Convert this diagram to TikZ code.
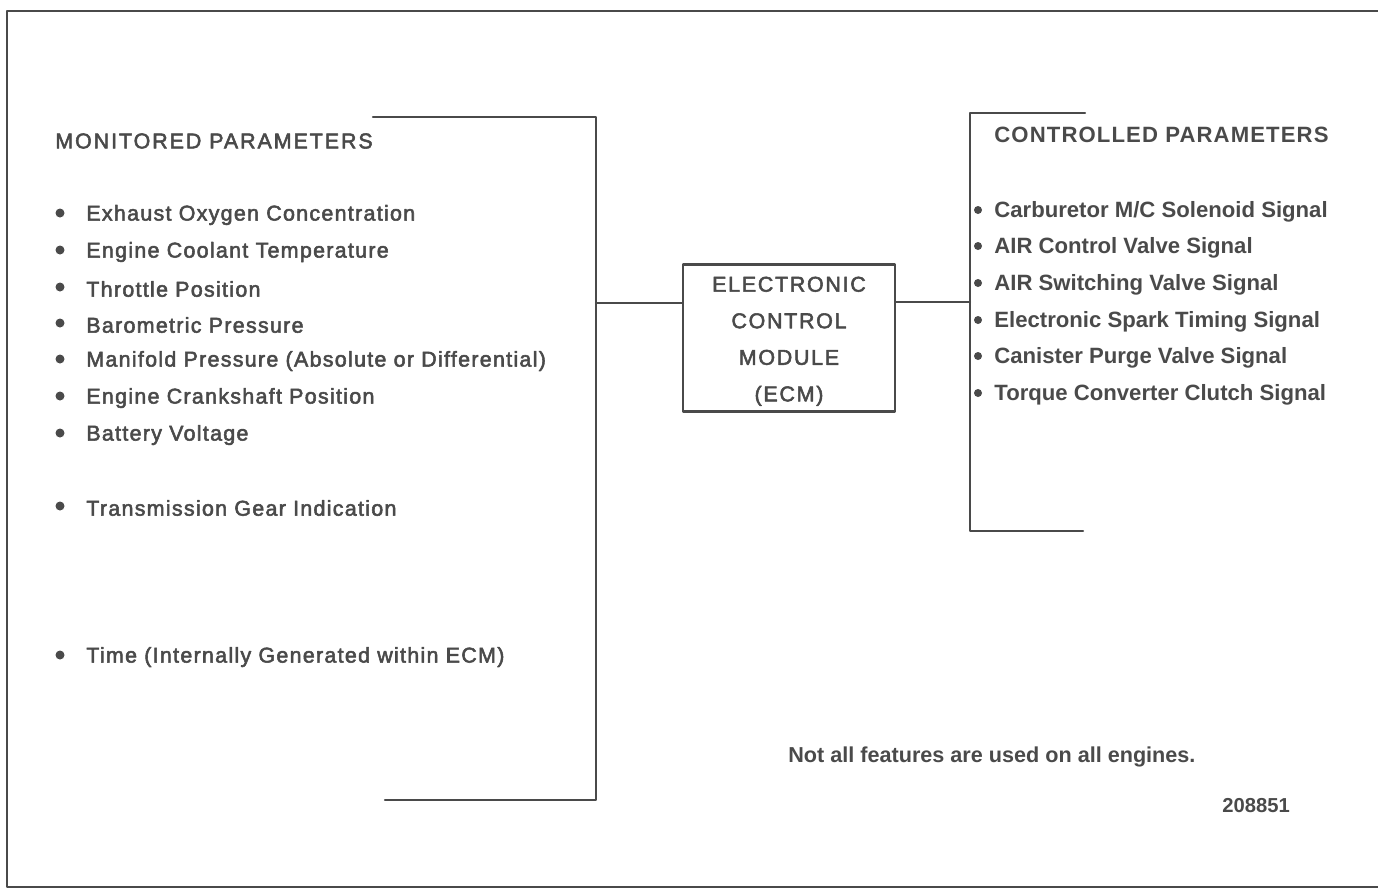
\documentclass[tikz,border=0pt]{standalone}
\usepackage{fontspec}
\setmainfont{Liberation Sans}
\newfontfamily\monfont[LetterSpace=6, FakeBold=2.5]{Liberation Sans}
\newfontfamily\monhead[LetterSpace=9, FakeBold=2.5]{Liberation Sans}
\newfontfamily\ecmfont[LetterSpace=8, FakeBold=2.5]{Liberation Sans}
\newfontfamily\conhead[LetterSpace=5]{Liberation Sans}
\usetikzlibrary{positioning}
\definecolor{ink}{HTML}{4A4A4A}

\begin{document}
\begin{tikzpicture}[x=0.02cm, y=-0.02cm, line cap=round, line join=round,
  frame/.style={draw=ink, line width=0.05cm},
  wire/.style={draw=ink, line width=0.045cm},
  monitem/.style={anchor=west, inner sep=0pt, text=ink, font=\monfont\fontsize{12.2}{14}\selectfont},
  conitem/.style={anchor=west, inner sep=0pt, text=ink, font=\bfseries\fontsize{12.6}{14}\selectfont},
  ecmbox/.style={draw=ink, line width=0.045cm, minimum width=4.24cm, minimum height=2.92cm,
    align=center, text=ink, font=\ecmfont\fontsize{12.2}{20.8}\selectfont}]

\useasboundingbox (0,0) rectangle (1378,890);

\draw[frame] (1380,11) -- (7,11) -- (7,887) -- (1380,887);

\draw[wire] (373,117) -- (596,117) -- (596,800) -- (385,800);
\draw[wire] (1085,113) -- (970,113) -- (970,531) -- (1083,531);

\coordinate (lbr) at (596,303);
\coordinate (rbr) at (970,302);

\node[ecmbox] (ecm) at (789,338) {\rule{0pt}{12.2pt}ELECTRONIC\\CONTROL\\MODULE\\(ECM)};
\draw[wire] (lbr) -- (lbr -| ecm.west);
\draw[wire] (ecm.east |- rbr) -- (rbr);

\node[monitem, font=\monhead\fontsize{12.2}{14}\selectfont] (mon) at (55,141) {MONITORED PARAMETERS};
\foreach \y/\t [count=\i] in {213/Exhaust Oxygen Concentration,
  250/Engine Coolant Temperature, 287/Throttle Position,
  323/Barometric Pressure, 359/Manifold Pressure (Absolute or Differential),
  396/Engine Crankshaft Position, 433/Battery Voltage,
  506/Transmission Gear Indication, 655/Time (Internally Generated within ECM)}
{
  \fill[ink] (60,\y) circle (4.5);
  \node[monitem] (mon\i) at (86,\y+2) {\t};
}

\node[conitem, font=\conhead\bfseries\fontsize{12.6}{14}\selectfont] (con) at (994,135) {CONTROLLED PARAMETERS};
\foreach \y/\t [count=\i] in {210/{Carburetor M/C Solenoid Signal},
  246/AIR Control Valve Signal, 283/AIR Switching Valve Signal,
  320/Electronic Spark Timing Signal, 356/Canister Purge Valve Signal,
  393/Torque Converter Clutch Signal}
{
  \fill[ink] (978,\y) circle (4);
  \node[conitem] (con\i) at (994,\y+2) {\t};
}

\node[conitem, font=\bfseries\fontsize{12.3}{14}\selectfont] (note) at (788,757) {Not all features are used on all engines.};
\node[conitem, font=\bfseries\fontsize{11.5}{13}\selectfont] (fig) at (1222,806) {208851};

\end{tikzpicture}
\end{document}
